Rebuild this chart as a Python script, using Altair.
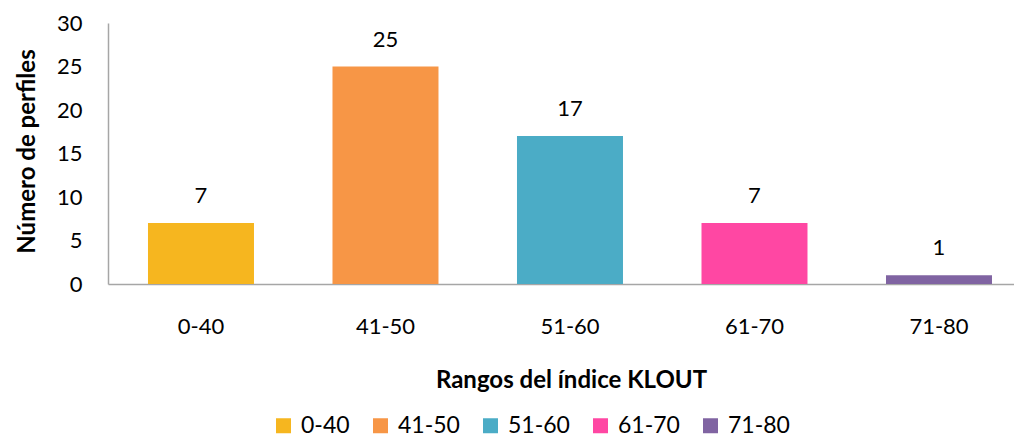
import altair as alt
import pandas as pd

categories = ["0-40", "41-50", "51-60", "61-70", "71-80"]
values = [7, 25, 17, 7, 1]
colors = ["#F6B61F", "#F79646", "#4BACC6", "#FF47A3", "#8064A2"]

df = pd.DataFrame({"rango": categories, "perfiles": values})

FONT = "Lato"

x = alt.X(
    "rango:N",
    sort=categories,
    scale=alt.Scale(paddingInner=0.4255, paddingOuter=0.168, align=0.645),
    axis=alt.Axis(
        title="Rangos del índice KLOUT",
        labelAngle=0,
        ticks=False,
        labelPadding=49,
        labelBaseline="alphabetic",
        titleX=463,
        titleY=103,
        titleBaseline="alphabetic",
        titleAlign="center",
    ),
)
y = alt.Y(
    "perfiles:Q",
    scale=alt.Scale(domain=[0, 30]),
    axis=alt.Axis(
        title="Número de perfiles",
        values=[0, 5, 10, 15, 20, 25, 30],
        ticks=False,
        grid=False,
        labelPadding=26,
        titleX=-74,
        titleY=128,
        titleAngle=-90,
        titleAlign="center",
        titleBaseline="alphabetic",
    ),
)

bars = alt.Chart(df).mark_bar().encode(
    x=x,
    y=y,
    color=alt.Color(
        "rango:N",
        sort=categories,
        scale=alt.Scale(domain=categories, range=colors),
        legend=alt.Legend(
            title=None,
            orient="none",
            direction="horizontal",
            legendX=164,
            legendY=391,
            symbolType="square",
            symbolSize=225,
            symbolStrokeWidth=0,
            labelFontSize=23,
            labelFont=FONT,
            labelColor="#000000",
            labelOffset=6,
            columnPadding=19,
        ),
    ),
)

text = alt.Chart(df).mark_text(
    baseline="alphabetic", dy=-20, fontSize=22, font=FONT, color="#000000"
).encode(
    x=alt.X("rango:N", sort=categories),
    y="perfiles:Q",
    text="perfiles:Q",
)

chart = (
    alt.layer(bars, text)
    .properties(
        width=906,
        height=261,
        autosize=alt.AutoSizeParams(type="none"),
        padding={"left": 100, "top": 15, "right": 0, "bottom": 154},
    )
    .configure_view(stroke=None)
    .configure_axis(
        domainColor="#A6A6A6",
        domainWidth=1.5,
        labelFont=FONT,
        labelFontSize=22,
        labelColor="#000000",
        titleFont=FONT,
        titleFontSize=24,
        titleFontWeight="bold",
        titleColor="#000000",
    )
)

chart.save("out.html", embed_options={"renderer": "svg", "actions": False})
